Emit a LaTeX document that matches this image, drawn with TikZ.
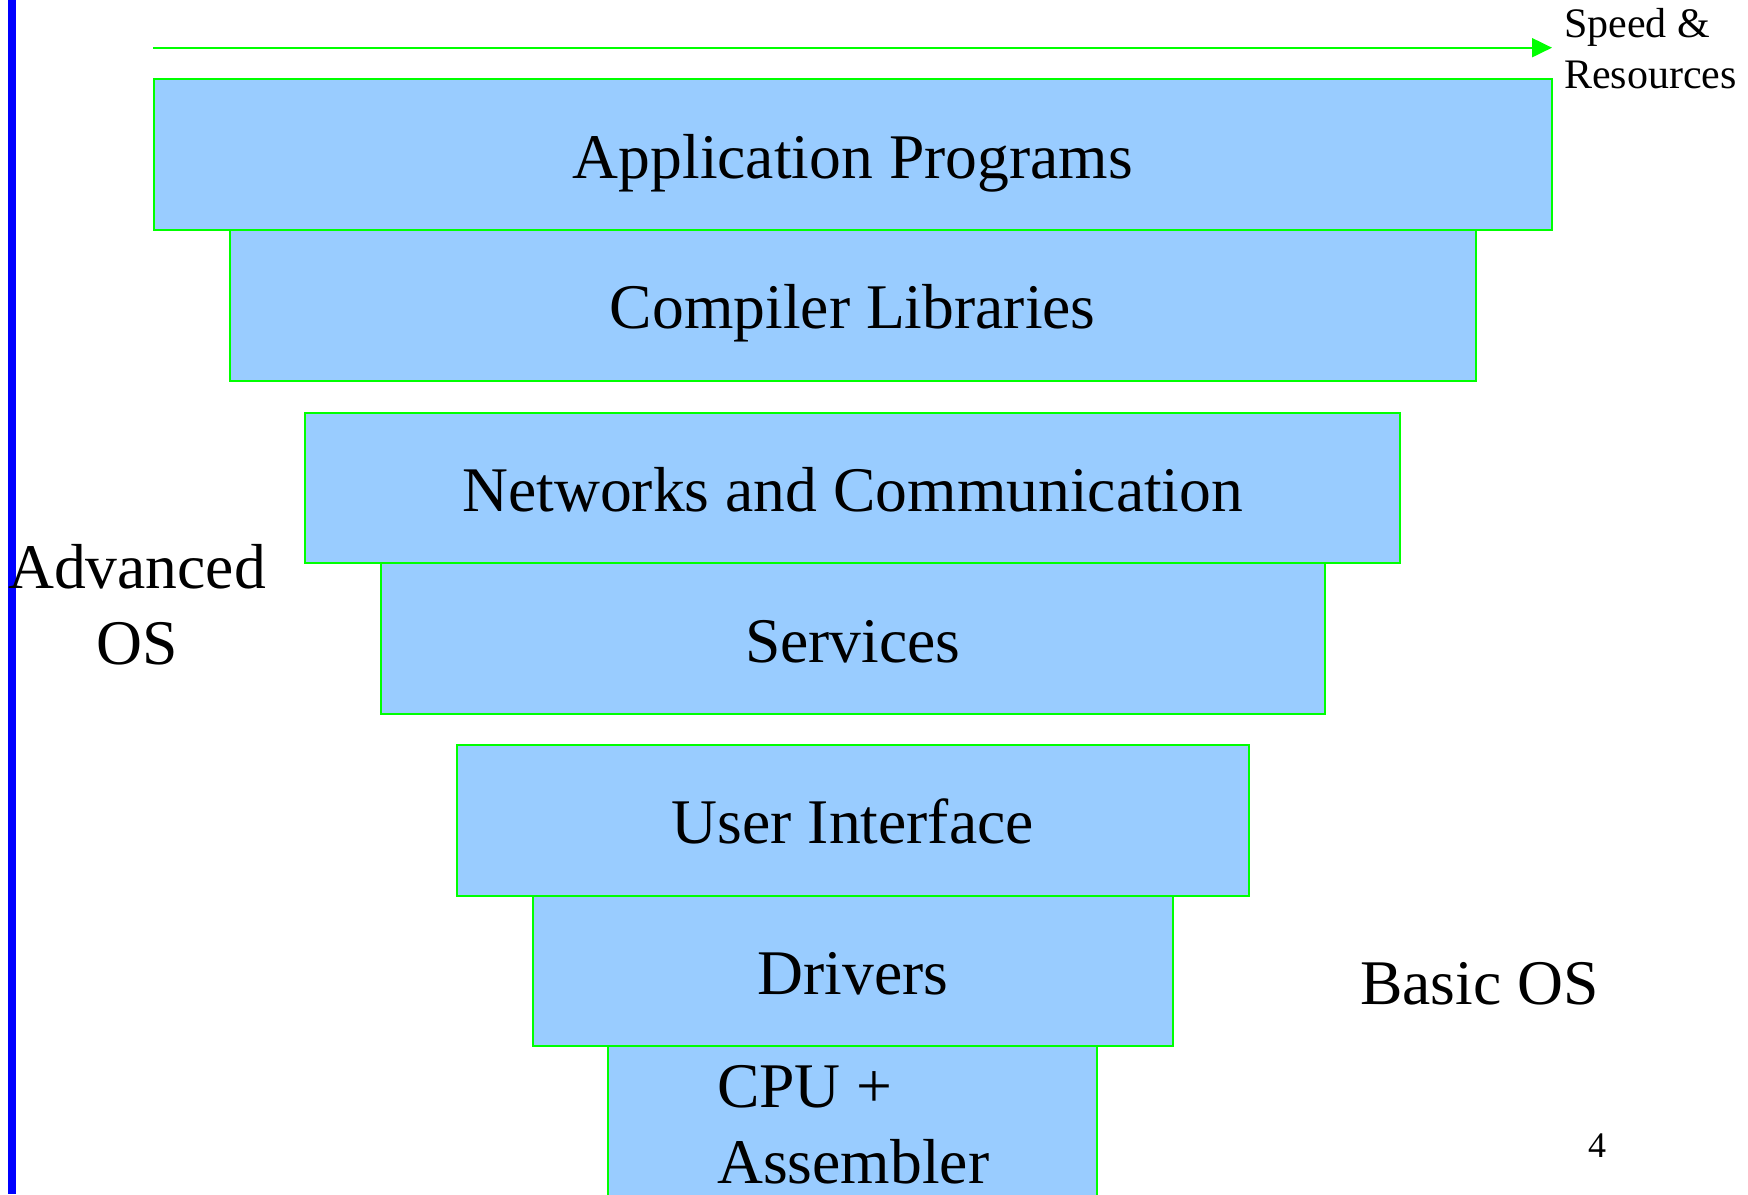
\documentclass[tikz,border=0pt]{standalone}
\usepackage{fontspec}
\setmainfont{Liberation Serif}
\usetikzlibrary{arrows.meta}
\definecolor{layerfill}{RGB}{153,204,255}
\definecolor{layeredge}{RGB}{0,255,0}
\definecolor{sidebar}{RGB}{0,0,255}
\begin{document}
\begin{tikzpicture}[x=1pt,y=-1pt,
  layer/.style={draw=layeredge, fill=layerfill, line width=2pt, rectangle,
    inner sep=0pt, minimum height=150.7pt, text height=47pt, text depth=0pt,
    font=\fontsize{63.6}{76}\selectfont},
  bigtext/.style={font=\fontsize{63.6}{76}\selectfont, inner sep=0pt},
  smalltext/.style={font=\fontsize{42}{51}\selectfont, inner sep=0pt},
  pagenum/.style={font=\fontsize{36}{40}\selectfont, inner sep=0pt}]
\useasboundingbox (0,0) rectangle (1748,1194);
\clip (0,0) rectangle (1748,1194);

% vertical bar on the left edge
\fill[sidebar] (7.5,0) rectangle (15.5,1194);

% stacked layers, narrowing towards the hardware
\node[layer, minimum width=1398pt]   (app)  at (852.8,154.6) {Application Programs};
\node[layer, minimum width=1246.5pt] (lib)  at (852.8,305.3) {Compiler Libraries};
\node[layer, minimum width=1095pt]   (net)  at (852.8,488.0) {Networks and Communication};
\node[layer, minimum width=943.5pt]  (serv) at (852.8,638.7) {Services};
\node[layer, minimum width=792pt]    (ui)   at (852.8,820.3) {User Interface};
\node[layer, minimum width=640.5pt]  (drv)  at (852.8,971.0) {Drivers};
\node[layer, minimum width=489pt, minimum height=170pt] (cpu) at (852.8,1131.3) {};
\node[bigtext, anchor=base west] (cputop) at (717,1107) {CPU +};
\node[bigtext, anchor=base west] (cpubot) at (717,1183) {Assembler};

% speed/resources axis
\coordinate (axisstart) at (153.3,47.7);
\coordinate (axisend) at (1552,47.7);
\draw[layeredge, line width=2pt, -{Triangle[length=20pt,width=19pt]}] (axisstart) -- (axisend);
% multi-line nodes sit on the baseline of their last line
\node[smalltext, anchor=base west, align=left] (speed) at (1564,88) {Speed \&\\Resources};

% side labels
\node[bigtext, anchor=base, align=center] (adv) at (137,664) {Advanced\\OS};
\node[bigtext, anchor=base west] (basic) at (1360,1004) {Basic OS};
\node[pagenum, anchor=base west] (page) at (1588,1157) {4};
\end{tikzpicture}
\end{document}
